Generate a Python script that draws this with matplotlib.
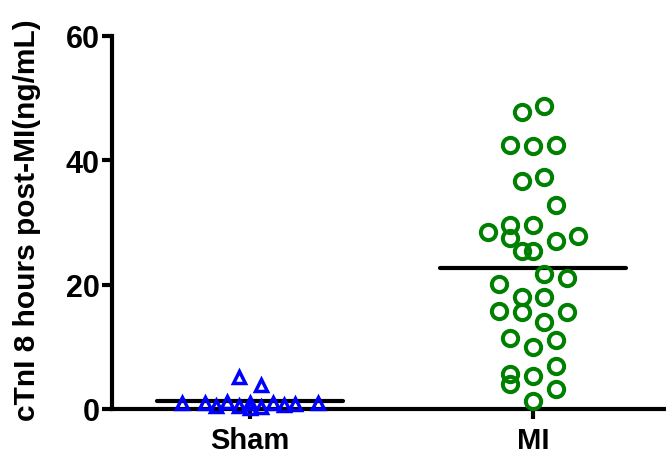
import numpy as np
import matplotlib
matplotlib.use("Agg")
import matplotlib.pyplot as plt

plt.rcParams['font.family'] = ['Liberation Sans', 'DejaVu Sans']
plt.rcParams['font.weight'] = 'bold'

# Group names and cTnI values (ng/mL), 8 hours after surgery
groups = ['Sham', 'MI']

sham_values = [5.1, 3.8, 1.0, 0.9, 1.1, 0.9, 1.0, 0.8, 1.0, 0.4, 0.2, 0.3, 0.5, 0.6]
sham_slots = [-1, 1, -6, -4, -2, 0, 2, 4, 6, -1, 0, 1, -3, 3]

mi_values = [47.7, 48.7, 42.4, 42.3, 42.4, 36.7, 37.3, 32.8, 28.5, 29.6, 29.6,
             27.5, 27.0, 27.8, 25.4, 25.4, 21.7, 21.1, 20.1, 18.0, 18.0, 15.8,
             15.6, 15.6, 14.0, 11.4, 10.0, 11.1, 6.9, 5.6, 5.3, 4.0, 3.2, 1.3]
mi_slots = [-1, 1, -2, 0, 2, -1, 1, 2, -4, -2, 0, -2, 2, 4, -1, 0, 1, 3, -3,
            -1, 1, -3, -1, 3, 1, -2, 0, 2, 2, -2, 0, -2, 2, 0]

y_ticks = [0, 20, 40, 60]

SLOT = 0.04      # horizontal spacing of scatter columns (data units)
HALF_BAR = 0.33  # half-width of the mean line

fig = plt.figure(figsize=(6.66, 4.56), dpi=100)
ax = fig.add_axes([0.168, 0.101, 0.832, 0.818])

# Sham: open blue triangles
sx = 1 + np.array(sham_slots) * SLOT
ax.plot(sx, sham_values, linestyle='none', marker='^', markersize=9,
        markeredgewidth=2.5, markeredgecolor='#0000ff', markerfacecolor='none',
        zorder=4, clip_on=False)

# MI: open green circles
mx = 2 + np.array(mi_slots) * SLOT
ax.plot(mx, mi_values, linestyle='none', marker='o', markersize=11,
        markeredgewidth=2.9, markeredgecolor='#008000', markerfacecolor='none',
        zorder=4, clip_on=False)

# Mean lines
for pos, vals in [(1, sham_values), (2, mi_values)]:
    m = np.mean(vals)
    ax.plot([pos - HALF_BAR, pos + HALF_BAR], [m, m], color='black',
            linewidth=3, solid_capstyle='round', zorder=3)

ax.set_xlim(0.512, 2.47)
ax.set_ylim(0, 60)
ax.set_xticks([1, 2])
ax.set_xticklabels(groups, fontsize=21, fontweight='bold')
ax.set_yticks(y_ticks)
ax.set_yticklabels([str(t) for t in y_ticks], fontsize=22, fontweight='bold')
ax.set_ylabel('cTnI 8 hours post-MI(ng/mL)', fontsize=21.5, fontweight='bold')
ax.yaxis.set_label_coords(-0.128, 0.51)

for side in ['top', 'right']:
    ax.spines[side].set_visible(False)
for side in ['left', 'bottom']:
    ax.spines[side].set_linewidth(3)
    ax.spines[side].set_color('black')
ax.tick_params(axis='both', direction='out', length=7, width=3, color='black',
               pad=2)
ax.tick_params(axis='x', pad=5)

fig.savefig('out.png', dpi=100)
